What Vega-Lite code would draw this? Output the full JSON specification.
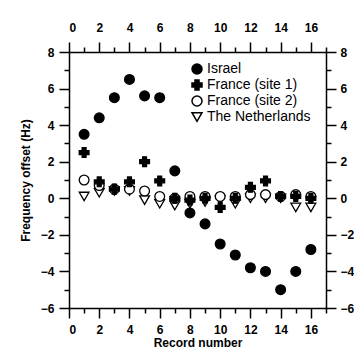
{
  "$schema": "https://vega.github.io/schema/vega-lite/v6.json",
  "autosize": "none",
  "width": 257,
  "height": 256,
  "padding": {"left": 69, "top": 52, "right": 28, "bottom": 52},
  "background": "white",
  "config": {
    "view": {"stroke": null},
    "axis": {
      "grid": false,
      "domainColor": "black",
      "domainWidth": 1.5,
      "tickColor": "black",
      "tickWidth": 1.5,
      "labelColor": "black",
      "labelFont": "Liberation Sans",
      "labelFontWeight": "bold",
      "labelFontSize": 12,
      "titleFont": "Liberation Sans",
      "titleFontWeight": "bold",
      "titleFontSize": 12,
      "titleColor": "black"
    }
  },
  "data": {
    "values": [
      {"rec": 1, "series": "The Netherlands", "v": 0.1},
      {"rec": 2, "series": "The Netherlands", "v": 0.3},
      {"rec": 3, "series": "The Netherlands", "v": 0.4},
      {"rec": 4, "series": "The Netherlands", "v": 0.4},
      {"rec": 5, "series": "The Netherlands", "v": -0.1},
      {"rec": 6, "series": "The Netherlands", "v": -0.3},
      {"rec": 7, "series": "The Netherlands", "v": -0.4},
      {"rec": 8, "series": "The Netherlands", "v": -0.3},
      {"rec": 9, "series": "The Netherlands", "v": -0.2},
      {"rec": 10, "series": "The Netherlands", "v": -0.1},
      {"rec": 11, "series": "The Netherlands", "v": -0.3},
      {"rec": 12, "series": "The Netherlands", "v": 0.0},
      {"rec": 13, "series": "The Netherlands", "v": 0.0},
      {"rec": 14, "series": "The Netherlands", "v": 0.0},
      {"rec": 15, "series": "The Netherlands", "v": -0.5},
      {"rec": 16, "series": "The Netherlands", "v": -0.5},
      {"rec": 1, "series": "France (site 2)", "v": 1.0},
      {"rec": 2, "series": "France (site 2)", "v": 0.7},
      {"rec": 3, "series": "France (site 2)", "v": 0.5},
      {"rec": 4, "series": "France (site 2)", "v": 0.5},
      {"rec": 5, "series": "France (site 2)", "v": 0.4},
      {"rec": 6, "series": "France (site 2)", "v": 0.1},
      {"rec": 7, "series": "France (site 2)", "v": 0.0},
      {"rec": 8, "series": "France (site 2)", "v": 0.1},
      {"rec": 9, "series": "France (site 2)", "v": 0.1},
      {"rec": 10, "series": "France (site 2)", "v": 0.1},
      {"rec": 11, "series": "France (site 2)", "v": 0.1},
      {"rec": 12, "series": "France (site 2)", "v": 0.2},
      {"rec": 13, "series": "France (site 2)", "v": 0.2},
      {"rec": 14, "series": "France (site 2)", "v": 0.1},
      {"rec": 15, "series": "France (site 2)", "v": 0.2},
      {"rec": 16, "series": "France (site 2)", "v": 0.1},
      {"rec": 1, "series": "France (site 1)", "v": 2.5},
      {"rec": 2, "series": "France (site 1)", "v": 0.9},
      {"rec": 3, "series": "France (site 1)", "v": 0.5},
      {"rec": 4, "series": "France (site 1)", "v": 0.9},
      {"rec": 5, "series": "France (site 1)", "v": 2.0},
      {"rec": 6, "series": "France (site 1)", "v": 0.95},
      {"rec": 7, "series": "France (site 1)", "v": 0.0},
      {"rec": 8, "series": "France (site 1)", "v": -0.1},
      {"rec": 9, "series": "France (site 1)", "v": 0.0},
      {"rec": 10, "series": "France (site 1)", "v": -0.5},
      {"rec": 11, "series": "France (site 1)", "v": 0.0},
      {"rec": 12, "series": "France (site 1)", "v": 0.6},
      {"rec": 13, "series": "France (site 1)", "v": 0.95},
      {"rec": 14, "series": "France (site 1)", "v": 0.1},
      {"rec": 15, "series": "France (site 1)", "v": 0.1},
      {"rec": 16, "series": "France (site 1)", "v": 0.0},
      {"rec": 1, "series": "Israel", "v": 3.5},
      {"rec": 2, "series": "Israel", "v": 4.4},
      {"rec": 3, "series": "Israel", "v": 5.5},
      {"rec": 4, "series": "Israel", "v": 6.5},
      {"rec": 5, "series": "Israel", "v": 5.6},
      {"rec": 6, "series": "Israel", "v": 5.5},
      {"rec": 7, "series": "Israel", "v": 1.5},
      {"rec": 8, "series": "Israel", "v": -0.8},
      {"rec": 9, "series": "Israel", "v": -1.4},
      {"rec": 10, "series": "Israel", "v": -2.5},
      {"rec": 11, "series": "Israel", "v": -3.1},
      {"rec": 12, "series": "Israel", "v": -3.8},
      {"rec": 13, "series": "Israel", "v": -4.0},
      {"rec": 14, "series": "Israel", "v": -5.0},
      {"rec": 15, "series": "Israel", "v": -4.0},
      {"rec": 16, "series": "Israel", "v": -2.8}
    ]
  },
  "resolve": {"axis": {"x": "independent", "y": "independent"}},
  "layer": [
    {
      "mark": {"type": "point", "stroke": "black", "strokeWidth": 1.3, "opacity": 1, "size": 95},
      "encoding": {
        "x": {"field": "rec", "type": "quantitative",
          "scale": {"domain": [0, 17], "nice": false, "zero": false},
          "axis": {"orient": "bottom", "values": [0,2,4,6,8,10,12,14,16], "tickSize": 10, "labelPadding": 6, "title": "Record number", "titlePadding": 2}},
        "y": {"field": "v", "type": "quantitative",
          "scale": {"domain": [-6, 8], "nice": false, "zero": false},
          "axis": {"orient": "left", "values": [-6,-4,-2,0,2,4,6,8], "tickSize": 10, "labelPadding": 5, "title": "Frequency offset (Hz)", "titlePadding": 8}},
        "shape": {"field": "series", "type": "nominal",
          "scale": {"domain": ["Israel", "France (site 1)", "France (site 2)", "The Netherlands"], "range": ["circle", "cross", "circle", "triangle-down"]},
          "legend": {"title": null, "orient": "none", "legendX": 121, "legendY": 10, "labelFont": "Liberation Sans", "labelFontSize": 14, "labelColor": "black", "rowPadding": 0, "symbolSize": 100, "labelOffset": 3, "labelLimit": 300,
            "encode": {"symbols": {"update": {"stroke": {"value": "black"}, "strokeWidth": {"value": 1.3}}}}}},
        "fill": {"field": "series", "type": "nominal",
          "scale": {"domain": ["Israel", "France (site 1)", "France (site 2)", "The Netherlands"], "range": ["black", "black", "white", "white"]},
          "legend": {"title": null, "orient": "none", "legendX": 121, "legendY": 10, "labelFont": "Liberation Sans", "labelFontSize": 14, "labelColor": "black", "rowPadding": 0, "symbolSize": 100, "labelOffset": 3, "labelLimit": 300,
            "encode": {"symbols": {"update": {"stroke": {"value": "black"}, "strokeWidth": {"value": 1.3}}}}}},
        "order": {"field": "series", "sort": "descending"}
      }
    },
    {
      "mark": {"type": "point", "opacity": 0},
      "encoding": {
        "x": {"field": "rec", "type": "quantitative",
          "axis": {"orient": "top", "values": [0,2,4,6,8,10,12,14,16], "tickSize": 10, "labelPadding": 8, "title": null}},
        "y": {"field": "v", "type": "quantitative",
          "axis": {"orient": "right", "values": [-6,-4,-2,0,2,4,6,8], "tickSize": 10, "labelPadding": 4, "title": null}}
      }
    },
    {
      "mark": {"type": "point", "opacity": 0},
      "encoding": {
        "x": {"field": "rec", "type": "quantitative",
          "axis": {"orient": "bottom", "values": [1,3,5,7,9,11,13,15,17], "tickSize": 5, "labels": false, "domain": false, "title": null}},
        "y": {"field": "v", "type": "quantitative",
          "axis": {"orient": "left", "values": [-5,-3,-1,1,3,5,7], "tickSize": 5, "labels": false, "domain": false, "title": null}}
      }
    },
    {
      "mark": {"type": "point", "opacity": 0},
      "encoding": {
        "x": {"field": "rec", "type": "quantitative",
          "axis": {"orient": "top", "values": [1,3,5,7,9,11,13,15,17], "tickSize": 5, "labels": false, "domain": false, "title": null}},
        "y": {"field": "v", "type": "quantitative",
          "axis": {"orient": "right", "values": [-5,-3,-1,1,3,5,7], "tickSize": 5, "labels": false, "domain": false, "title": null}}
      }
    }
  ]
}
